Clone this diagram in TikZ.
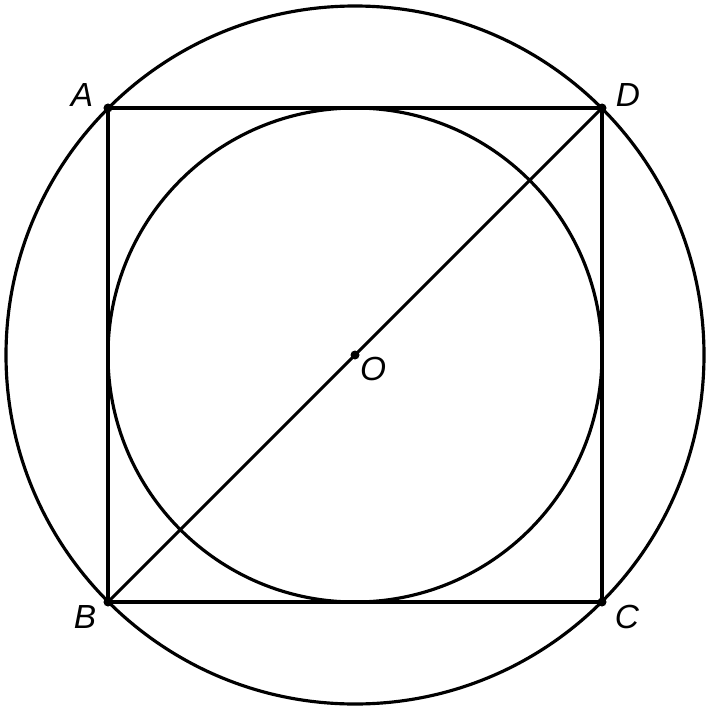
\documentclass[tikz,border=0pt]{standalone}
\usepackage{fontspec}
\setmainfont{Liberation Sans}
\begin{document}
\begin{tikzpicture}[x=0.01cm,y=-0.01cm,
  geo/.style={line width=0.9pt,black},
  dotpt/.style={circle,fill=black,inner sep=0pt,minimum size=0.09cm},
  lab/.style={font=\fontsize{9.5}{11}\selectfont\itshape}]
\useasboundingbox (0,0) rectangle (712,712);
\coordinate (O) at (355,355);
\coordinate (A) at (108,108);
\coordinate (D) at (602,108);
\coordinate (C) at (602,602);
\coordinate (B) at (108,602);
\draw[geo] (O) circle[radius=349];
\draw[geo] (O) circle[radius=247];
\draw[geo] (A) -- (D) -- (C) -- (B) -- cycle;
\draw[geo] (B) -- (D);
\foreach \p in {A,B,C,D,O} \node[dotpt] (d\p) at (\p) {};
\node[lab] (lA) at (82,95) {A};
\node[lab] (lD) at (628,95) {D};
\node[lab] (lB) at (85,617) {B};
\node[lab] (lC) at (627,617) {C};
\node[lab] (lO) at (373,369) {O};
\end{tikzpicture}
\end{document}
